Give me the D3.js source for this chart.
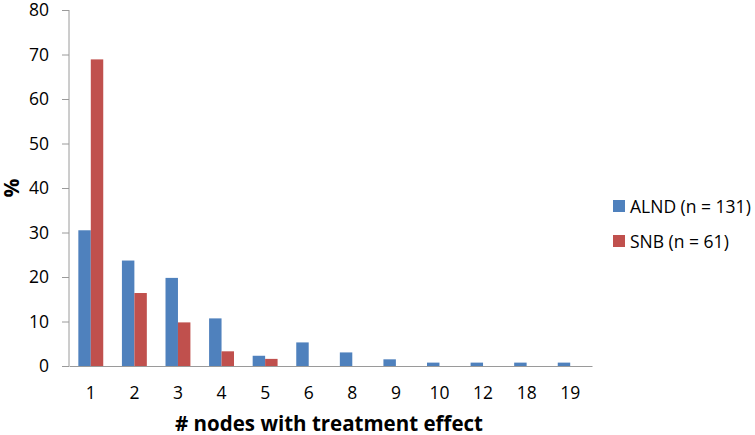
<!DOCTYPE html>
<html><head><meta charset="utf-8">
<script src="https://cdn.jsdelivr.net/npm/d3@7"></script>
<style>body{margin:0;background:#fff}svg{display:block;font-family:"Open Sans",sans-serif}</style>
</head><body><svg id="c" width="755" height="435"></svg>
<script>
const categories = ["1","2","3","4","5","6","8","9","10","12","18","19"];
const alnd = [30.5,23.7,19.8,10.7,2.3,5.3,3.05,1.5,0.76,0.76,0.76,0.76];
const snb = [68.9,16.4,9.8,3.3,1.6,0,0,0,0,0,0,0];
const seriesNames = ["ALND (n = 131)","SNB (n = 61)"];
const colors = ["#4F81BD","#C0504D"];
const yTicks = [0,10,20,30,40,50,60,70,80];

(function(){
const svg = d3.select("#c");
const mLeft = 69, mRight = 592, mTop = 10, mBottom = 366;
const x = d3.scaleBand().domain(categories).range([mLeft,mRight]).paddingInner(0).paddingOuter(0);
const y = d3.scaleLinear().domain([0,80]).range([mBottom,mTop]);
const bw = x.bandwidth()/3.5;
const sub = d3.scaleBand().domain([0,1]).range([x.bandwidth()/2 - bw, x.bandwidth()/2 + bw]);

const data = [alnd, snb];
data.forEach((vals,si)=>{
  svg.append("g").selectAll("rect").data(vals).join("rect")
    .attr("x",(d,i)=>x(categories[i])+sub(si))
    .attr("width",sub.bandwidth())
    .attr("y",d=>y(d))
    .attr("height",d=>mBottom-y(d))
    .attr("fill",colors[si]);
});

const ya = svg.append("g").attr("transform",`translate(${mLeft},0)`)
  .call(d3.axisLeft(y).tickValues(yTicks).tickSize(7).tickPadding(13));
ya.select(".domain").attr("stroke","#9a9a9a").attr("d",`M0,${mTop}V${mBottom}`);
ya.selectAll(".tick line").attr("stroke","#9a9a9a");
ya.selectAll(".tick text").attr("font-size",17.5).attr("fill","#000").attr("font-family","'Open Sans',sans-serif");

const xa = svg.append("g").attr("transform",`translate(0,${mBottom})`)
  .call(d3.axisBottom(x).tickSize(0).tickPadding(17));
xa.select(".domain").attr("stroke","#9a9a9a");
xa.selectAll(".tick text").attr("font-size",17.5).attr("fill","#000").attr("font-family","'Open Sans',sans-serif")
  .attr("dy",null).attr("y",33);

svg.append("text").attr("x",329).attr("y",431).attr("text-anchor","middle")
  .attr("font-weight","bold").attr("font-size",20.5).text("# nodes with treatment effect");
svg.append("text").attr("transform","translate(19,188) rotate(-90)").attr("text-anchor","middle")
  .attr("font-weight","bold").attr("font-size",21).text("%");

const lg = svg.append("g");
seriesNames.forEach((n,i)=>{
  lg.append("rect").attr("x",613).attr("y",200+i*35).attr("width",12).attr("height",12).attr("fill",colors[i]);
  lg.append("text").attr("x",630).attr("y",213+i*35).attr("font-size",17.5).text(n);
});
})();
</script></body></html>
